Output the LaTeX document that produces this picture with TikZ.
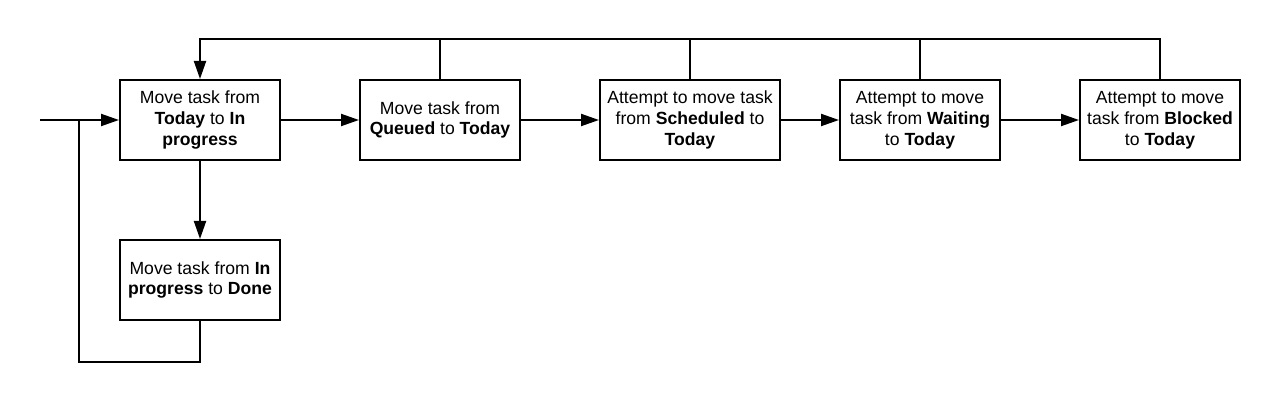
\documentclass[tikz,border=0pt]{standalone}
\usepackage{fontspec}
\setmainfont{Liberation Sans}
\usepackage{tikz}
\usetikzlibrary{arrows.meta}
\tikzstyle{process} = [rectangle, minimum width=120pt, minimum height=60pt, inner sep=2pt, align=center, draw=black, line width=1.5pt, font=\fontsize{13.2}{15.6}\selectfont]
\tikzstyle{wideprocess} = [process, minimum width=135pt]
\tikzset{
  arrow/.style={line width=1.5pt,->,>={Stealth[length=13.5pt,width=9pt,inset=0pt]}},
  line/.style={line width=1.5pt},
}

\begin{document}
\begin{tikzpicture}[
  node distance=180pt
  ]
\useasboundingbox (0,0) rectangle (960pt,-301.5pt);
\node (today) [process] at (150pt,-90pt) {Move task from\\ \textbf{Today} to \textbf{In}\\ \textbf{progress}};
\node (queued) [process, right of=today] {Move task from\\ \textbf{Queued} to \textbf{Today}};
\node (sched) [wideprocess, right of=queued, xshift=7.5pt] {Attempt to move task\\ from \textbf{Scheduled} to\\ \textbf{Today}};
\node (wait) [process, right of=sched, xshift=-7.5pt] {Attempt to move\\ task from \textbf{Waiting}\\ to \textbf{Today}};
\node (blocked) [process, right of=wait] {Attempt to move\\ task from \textbf{Blocked}\\ to \textbf{Today}};
\node (done) [process, below of=today, yshift=60pt] {Move task from \textbf{In}\\ \textbf{progress} to \textbf{Done}};
\coordinate (entry) at (30pt,-90pt);
\coordinate (back) at (59.5pt,-90pt);

\draw [arrow] (entry) -- (today);
\draw [arrow] (today) -- (queued);
\draw [arrow] (queued) -- (sched);
\draw [arrow] (sched) -- (wait);
\draw [arrow] (wait) -- (blocked);
\draw [arrow] (today) -- (done);
\draw [line] (done.south) -- ++(0,-30.5pt) -| (back);
% return line over the top
\draw [arrow] (blocked.north) -- ++(0,30pt) -| (today.north);
\draw [line] (queued.north) -- ++(0,30pt);
\draw [line] (sched.north) -- ++(0,30pt);
\draw [line] (wait.north) -- ++(0,30pt);
\end{tikzpicture}
\end{document}
